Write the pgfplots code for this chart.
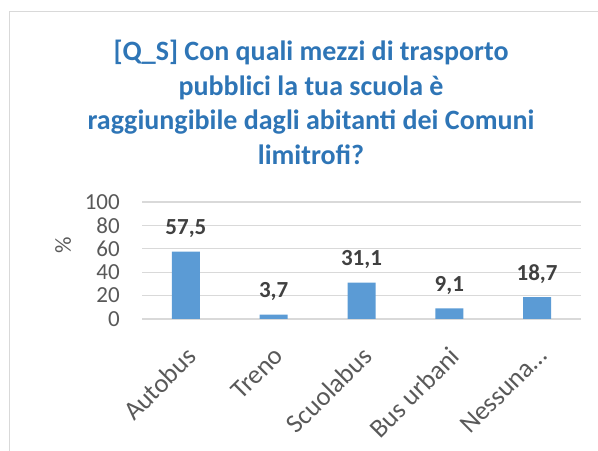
\documentclass[border=0pt]{standalone}
\usepackage{fontspec}
\setmainfont{Carlito}
\usepackage{pgfplots}
\pgfplotsset{compat=1.18}
\definecolor{barblue}{HTML}{5B9BD5}
\definecolor{titleblue}{HTML}{2E75B6}
\definecolor{txtgray}{HTML}{595959}
\definecolor{lblgray}{HTML}{404040}
\definecolor{gridgray}{HTML}{D9D9D9}
\begin{document}
\begin{tikzpicture}[x=1bp,y=1bp]
\useasboundingbox (0,0) rectangle (598,451);
\draw[gridgray,line width=1bp] (9,-20) -- (9,439) -- (620,439);
% title
\begin{scope}[every node/.style={anchor=base,inner sep=0,text=titleblue,font=\fontsize{28bp}{30bp}\selectfont\bfseries}]
\node at (311,390) {[Q\_S] Con quali mezzi di trasporto};
\node at (311,355.5) {pubblici la tua scuola è};
\node at (311,321) {raggiungibile dagli abitanti dei Comuni};
\node at (311,286.5) {limitrofi?};
\end{scope}
\node[rotate=90,text=txtgray,font=\fontsize{23bp}{26bp}\selectfont] at (63,206) {\%};
\begin{axis}[
  at={(142bp,132bp)},anchor=south west,
  scale only axis,width=439bp,height=117bp,
  ybar,bar width=28bp,
  xmin=-0.5,xmax=4.5,ymin=0,ymax=100,
  xtick=data,
  xticklabels={Autobus,Treno,Scuolabus,Bus urbani,Nessuna…},
  ytick={0,20,40,60,80,100},
  /pgf/number format/assume math mode=true,
  ymajorgrids,
  grid style={gridgray,line width=1.3bp},
  axis line style={draw=none},
  major tick length=0pt,
  yticklabel style={anchor=east,inner sep=0,xshift=-22bp,
    font=\fontsize{23bp}{26bp}\selectfont,text=txtgray},
  xticklabel style={inner sep=0,xshift=-1bp,yshift=-26bp,rotate=45,anchor=north east,
    font=\fontsize{26.5bp}{28bp}\selectfont,text=txtgray},
  point meta=explicit symbolic,
  nodes near coords,
  every node near coord/.append style={anchor=base,yshift=17bp,inner sep=0,
    font=\fontsize{23bp}{26bp}\selectfont\bfseries,text=lblgray},
  clip=false,
]
\addplot[fill=barblue,draw=none] coordinates {
(0,57.5) [57,5]
(1,3.7) [3,7]
(2,31.1) [31,1]
(3,9.1) [9,1]
(4,18.7) [18,7]
};
\end{axis}
\end{tikzpicture}
\end{document}
